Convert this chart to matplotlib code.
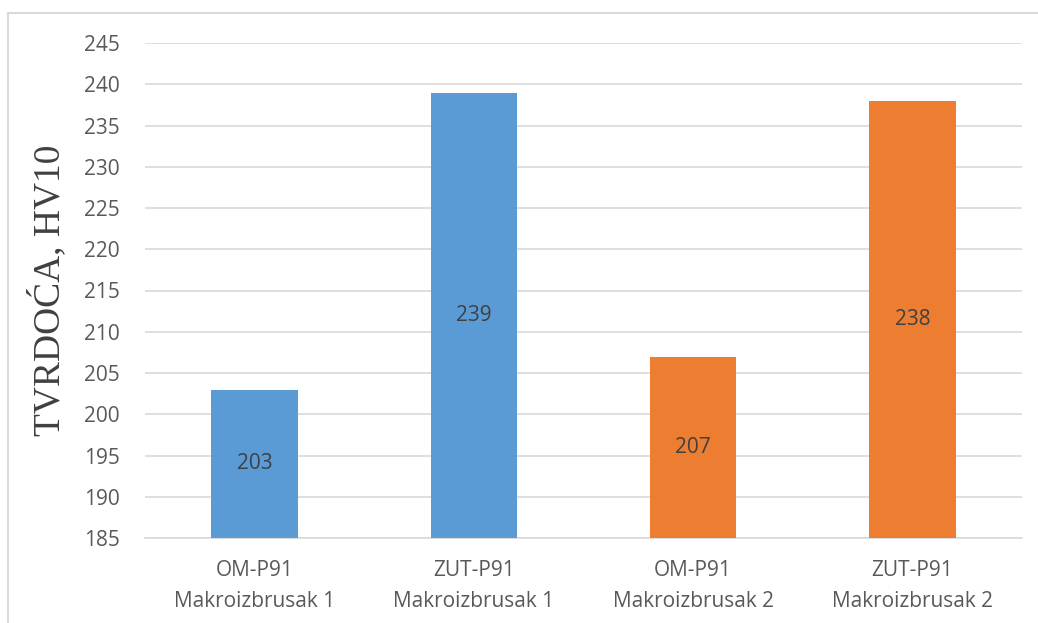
import matplotlib.pyplot as plt
from matplotlib.lines import Line2D

# data
categories = ['OM-P91\nMakroizbrusak 1', 'ZUT-P91\nMakroizbrusak 1',
              'OM-P91\nMakroizbrusak 2', 'ZUT-P91\nMakroizbrusak 2']
hardness = [203, 239, 207, 238]
bar_colors = ['#5B9BD5', '#5B9BD5', '#ED7D31', '#ED7D31']
y_ticks = list(range(185, 250, 5))

W, H = 1038, 623
fig = plt.figure(figsize=(W / 100, H / 100), dpi=100)
ax = fig.add_axes([145 / W, 1 - 538 / H, 877 / W, 495 / H])

x = range(len(categories))
ax.bar(x, [v - 185 for v in hardness], bottom=185, width=0.395, color=bar_colors, zorder=3)

# value labels in the middle of each bar
for xi, v in zip(x, hardness):
    ax.text(xi, (185 + v) / 2, str(v), ha='center', va='center',
            fontsize=15, color='#404040', family='Open Sans', zorder=4)

ax.set_ylim(185, 245)
ax.set_xlim(-0.5, 3.5)
ax.set_yticks(y_ticks)
ax.set_xticks(list(x))
ax.set_xticklabels(categories)
ax.yaxis.grid(True, color='#D9D9D9', linewidth=1.2, zorder=0)
for s in ['top', 'right', 'left']:
    ax.spines[s].set_visible(False)
ax.spines['bottom'].set_color('#D9D9D9')
ax.spines['bottom'].set_linewidth(1.2)
ax.tick_params(length=0, labelsize=15, colors='#595959')
ax.tick_params(axis='y', pad=18)
ax.tick_params(axis='x', pad=16)
for lab in ax.get_xticklabels() + ax.get_yticklabels():
    lab.set_family('Open Sans')
    lab.set_linespacing(1.6)

ax.set_ylabel('TVRDOĆA, HV10', family='Liberation Serif', fontsize=27, color='#404040', labelpad=12)

# chart area border (top and left visible)
fig.add_artist(Line2D([8 / W, 1.0], [1 - 13 / H, 1 - 13 / H], color='#D9D9D9', linewidth=1.5,
                      transform=fig.transFigure))
fig.add_artist(Line2D([8 / W, 8 / W], [0, 1 - 13 / H], color='#D9D9D9', linewidth=1.5,
                      transform=fig.transFigure))

fig.savefig('out.png', dpi=100, facecolor='white')
